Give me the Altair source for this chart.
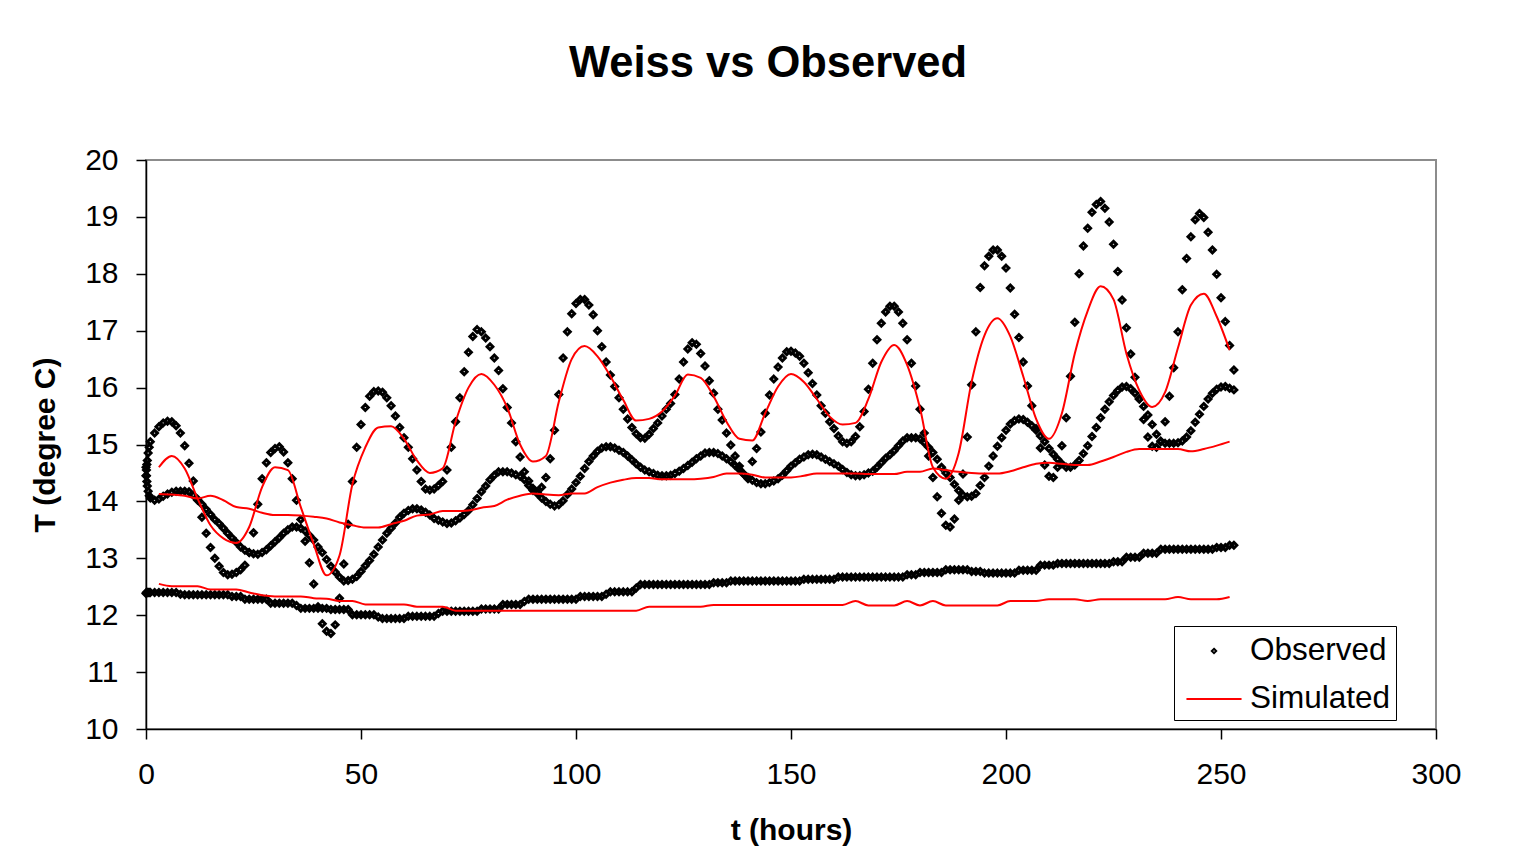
import altair as alt
import pandas as pd

# ---------------- data ----------------
x_ticks = [0, 50, 100, 150, 200, 250, 300]
y_ticks = [10, 11, 12, 13, 14, 15, 16, 17, 18, 19, 20]

# observed: a few readings inside the first hour, then hourly to t = 253
t_obs = [0, 0.1, 0.2, 0.3, 0.5, 0.75] + list(range(1, 254))

obs_upper = [
    14.45, 14.55, 14.65, 14.72, 14.85, 14.95,
    15.05, 15.2, 15.31, 15.38, 15.41, 15.4, 15.33, 15.2, 14.98, 14.67,
    14.36, 14.02, 13.72, 13.44, 13.19, 13.0, 12.86, 12.75, 12.71, 12.72,
    12.75, 12.8, 12.88, 13.1, 13.45, 13.95, 14.4, 14.68, 14.86, 14.93,
    14.96, 14.87, 14.68, 14.4, 14.02, 13.68, 13.3, 12.92, 12.55, 12.15,
    11.85, 11.72, 11.68, 11.83, 12.3, 12.9, 13.6, 14.35, 14.95, 15.35,
    15.65, 15.85, 15.93, 15.94, 15.92, 15.82, 15.68, 15.5, 15.3, 15.12,
    14.95, 14.75, 14.55, 14.35, 14.22, 14.2, 14.22, 14.28, 14.35, 14.55,
    14.95, 15.4, 15.82, 16.28, 16.62, 16.9, 17.02, 16.98, 16.87, 16.72,
    16.52, 16.3, 15.98, 15.65, 15.38, 15.05, 14.78, 14.52, 14.36, 14.23,
    14.16, 14.25, 14.42, 14.75, 15.25, 15.88, 16.52, 16.98, 17.3, 17.48,
    17.55, 17.55, 17.45, 17.28, 17.0, 16.72, 16.45, 16.22, 16.02, 15.82,
    15.62, 15.45, 15.3, 15.19, 15.12, 15.11, 15.18, 15.28, 15.38, 15.5,
    15.62, 15.72, 15.88, 16.15, 16.45, 16.68, 16.79, 16.76, 16.6, 16.38,
    16.12, 15.9, 15.62, 15.43, 15.2, 14.99, 14.8, 14.62, 14.48, 14.4,
    14.7, 14.93, 15.22, 15.55, 15.87, 16.15, 16.36, 16.52, 16.63, 16.64,
    16.61, 16.55, 16.43, 16.26, 16.07, 15.87, 15.68, 15.55, 15.4, 15.28,
    15.15, 15.05, 15.02, 15.05, 15.14, 15.31, 15.58, 15.97, 16.43, 16.84,
    17.13, 17.33, 17.43, 17.43, 17.33, 17.13, 16.84, 16.43, 16.03, 15.62,
    15.2, 14.8, 14.42, 14.08, 13.79, 13.58, 13.55, 13.69, 14.02, 14.48,
    15.13, 16.05, 16.98, 17.76, 18.14, 18.31, 18.42, 18.42, 18.31, 18.1,
    17.75, 17.29, 16.88, 16.45, 16.03, 15.68, 15.28, 14.94, 14.64, 14.44,
    14.42, 14.6, 14.98, 15.47, 16.2, 17.15, 18.0, 18.49, 18.8, 19.08,
    19.22, 19.27, 19.15, 18.91, 18.52, 18.04, 17.54, 17.05, 16.59, 16.18,
    15.8, 15.44, 15.13, 14.97, 14.95, 15.05, 15.4, 15.85, 16.35, 16.98,
    17.72, 18.27, 18.65, 18.95, 19.06, 18.99, 18.73, 18.42, 17.99, 17.58,
    17.16, 16.74, 16.31,
]

obs_middle = [
    14.6, 14.45, 14.35, 14.27, 14.18, 14.1,
    14.06, 14.02, 14.04, 14.09, 14.13, 14.16, 14.18, 14.18, 14.18, 14.17,
    14.11, 14.04, 13.95, 13.86, 13.77, 13.68, 13.61, 13.53, 13.44, 13.36,
    13.28, 13.2, 13.14, 13.1, 13.08, 13.07, 13.1, 13.15, 13.22, 13.29,
    13.36, 13.44, 13.5, 13.55, 13.55, 13.53, 13.48, 13.4, 13.32, 13.2,
    13.1, 12.98, 12.86, 12.76, 12.67, 12.6, 12.61, 12.63, 12.68, 12.77,
    12.87, 12.96, 13.07, 13.2, 13.32, 13.44, 13.53, 13.62, 13.72, 13.79,
    13.84, 13.87, 13.87, 13.85, 13.81, 13.76, 13.7, 13.67, 13.64, 13.61,
    13.62, 13.66, 13.71, 13.77, 13.84, 13.94, 14.05, 14.17, 14.27, 14.38,
    14.46, 14.52, 14.52, 14.52, 14.5, 14.47, 14.44, 14.38, 14.28, 14.19,
    14.14, 14.06, 14.0, 13.95, 13.92, 13.94, 14.01, 14.12, 14.22, 14.33,
    14.44, 14.58, 14.7, 14.8, 14.88, 14.94, 14.96, 14.96, 14.94, 14.9,
    14.86, 14.8, 14.73, 14.66, 14.6, 14.55, 14.52, 14.49, 14.46, 14.45,
    14.45, 14.46, 14.49, 14.53, 14.58, 14.63, 14.69, 14.75, 14.8, 14.85,
    14.86, 14.86, 14.84, 14.8, 14.75, 14.7, 14.63, 14.56, 14.48, 14.42,
    14.37, 14.33, 14.31, 14.31, 14.33, 14.36, 14.4, 14.46, 14.54, 14.62,
    14.68, 14.74, 14.78, 14.82, 14.83, 14.82, 14.78, 14.74, 14.7, 14.66,
    14.62, 14.56, 14.51, 14.47, 14.45, 14.45, 14.47, 14.5, 14.53, 14.6,
    14.68, 14.76, 14.82, 14.89, 14.98, 15.06, 15.12, 15.12, 15.12, 15.1,
    15.03, 14.95, 14.86, 14.74, 14.6, 14.5, 14.42, 14.3, 14.19, 14.11,
    14.08, 14.09, 14.14, 14.28, 14.42, 14.62, 14.8, 14.97, 15.12, 15.25,
    15.36, 15.42, 15.45, 15.44, 15.39, 15.33, 15.25, 15.15, 15.05, 14.93,
    14.83, 14.74, 14.66, 14.6, 14.6, 14.64, 14.72, 14.84, 14.98, 15.14,
    15.3, 15.47, 15.62, 15.75, 15.86, 15.95, 16.01, 16.02, 15.98, 15.9,
    15.8, 15.67, 15.52, 15.35, 15.18, 15.06, 15.02, 15.02, 15.02, 15.03,
    15.06, 15.13, 15.24, 15.39, 15.53, 15.67, 15.8, 15.9, 15.97, 16.01,
    16.02, 15.99, 15.96,
]

obs_lower = [
    12.38, 12.4, 12.4, 12.4, 12.4, 12.4,
    12.4, 12.4, 12.4, 12.4, 12.4, 12.4, 12.4, 12.37, 12.36, 12.36,
    12.36, 12.36, 12.36, 12.36, 12.36, 12.36, 12.36, 12.36, 12.36, 12.33,
    12.33, 12.33, 12.28, 12.28, 12.28, 12.28, 12.28, 12.28, 12.21, 12.21,
    12.21, 12.21, 12.21, 12.21, 12.17, 12.12, 12.12, 12.12, 12.12, 12.12,
    12.12, 12.12, 12.1, 12.1, 12.1, 12.1, 12.1, 12.01, 12.01, 12.01,
    12.01, 12.01, 12.01, 11.97, 11.94, 11.94, 11.94, 11.94, 11.94, 11.94,
    11.98, 11.98, 11.98, 11.98, 11.98, 11.98, 11.98, 12.03, 12.07, 12.07,
    12.07, 12.07, 12.07, 12.07, 12.07, 12.07, 12.07, 12.11, 12.11, 12.11,
    12.11, 12.11, 12.19, 12.19, 12.19, 12.19, 12.19, 12.24, 12.28, 12.28,
    12.28, 12.28, 12.28, 12.28, 12.28, 12.28, 12.28, 12.28, 12.28, 12.28,
    12.33, 12.33, 12.33, 12.33, 12.33, 12.33, 12.37, 12.41, 12.41, 12.41,
    12.41, 12.41, 12.41, 12.48, 12.54, 12.54, 12.54, 12.54, 12.54, 12.54,
    12.54, 12.54, 12.54, 12.54, 12.54, 12.54, 12.54, 12.54, 12.54, 12.54,
    12.54, 12.57, 12.57, 12.57, 12.57, 12.6, 12.6, 12.6, 12.6, 12.6,
    12.6, 12.6, 12.6, 12.6, 12.6, 12.6, 12.6, 12.6, 12.6, 12.6,
    12.6, 12.6, 12.63, 12.63, 12.63, 12.63, 12.63, 12.63, 12.63, 12.63,
    12.67, 12.67, 12.67, 12.67, 12.67, 12.67, 12.67, 12.67, 12.67, 12.67,
    12.67, 12.67, 12.67, 12.67, 12.67, 12.67, 12.71, 12.71, 12.71, 12.75,
    12.75, 12.75, 12.75, 12.75, 12.75, 12.8, 12.8, 12.8, 12.8, 12.8,
    12.8, 12.77, 12.77, 12.77, 12.74, 12.74, 12.74, 12.74, 12.74, 12.74,
    12.74, 12.74, 12.79, 12.79, 12.79, 12.79, 12.79, 12.88, 12.88, 12.88,
    12.88, 12.91, 12.91, 12.91, 12.91, 12.91, 12.91, 12.91, 12.91, 12.91,
    12.91, 12.91, 12.91, 12.91, 12.94, 12.94, 12.94, 13.02, 13.02, 13.02,
    13.02, 13.09, 13.09, 13.09, 13.09, 13.16, 13.16, 13.16, 13.16, 13.16,
    13.16, 13.16, 13.16, 13.16, 13.16, 13.16, 13.16, 13.16, 13.19, 13.19,
    13.19, 13.23, 13.23,
]

# simulated: every 3 hours from t = 3 to t = 252
t_sim = list(range(3, 253, 3))

sim_upper = [
    14.6, 14.8, 14.58, 14.05, 13.58, 13.35, 13.27, 13.55, 14.25, 14.6,
    14.55, 13.9, 13.25, 12.7, 13.05, 14.3, 14.95, 15.3, 15.32, 15.1,
    14.72, 14.5, 14.58, 15.4, 16.0, 16.24, 16.05, 15.65, 15.0, 14.7,
    14.8, 15.75, 16.5, 16.73, 16.55, 16.2, 15.78, 15.42, 15.45, 15.58,
    15.86, 16.23, 16.17,
    15.85, 15.4, 15.1, 15.07, 15.55, 16.02, 16.24, 16.1, 15.8, 15.49,
    15.35, 15.38, 15.8, 16.45, 16.75, 16.4, 15.64, 14.6, 14.4, 14.85,
    16.1, 16.92, 17.22, 16.9, 16.2, 15.45, 15.1, 15.55, 16.6, 17.35,
    17.78, 17.55, 16.6, 15.95, 15.66, 15.92, 16.7, 17.45, 17.65, 17.25,
    16.66,
]

sim_middle = [
    14.13, 14.12, 14.1, 14.05, 14.1, 14.02, 13.9, 13.87, 13.8, 13.76,
    13.76, 13.75, 13.73, 13.7, 13.63, 13.58, 13.54, 13.54, 13.6, 13.66,
    13.75, 13.77, 13.83, 13.83, 13.84, 13.89, 13.92, 14.03, 14.1, 14.14,
    14.12, 14.11, 14.14, 14.14, 14.25, 14.33, 14.38, 14.41, 14.41, 14.39,
    14.39, 14.39, 14.4, 14.43, 14.49, 14.49, 14.47, 14.42, 14.42, 14.42,
    14.45, 14.49, 14.49, 14.49, 14.49, 14.48, 14.48, 14.48, 14.52, 14.52,
    14.58, 14.55, 14.52, 14.5, 14.49, 14.49, 14.53, 14.6, 14.66, 14.68,
    14.66, 14.64, 14.64, 14.7, 14.78, 14.87, 14.92, 14.92, 14.92, 14.92,
    14.88, 14.92, 14.98, 15.05,
]

sim_lower = [
    12.55, 12.51, 12.51, 12.51, 12.45, 12.45, 12.45, 12.4, 12.35, 12.33,
    12.33, 12.33, 12.3, 12.29, 12.25, 12.25, 12.19, 12.19, 12.19, 12.19,
    12.15, 12.15, 12.15, 12.08, 12.08, 12.08, 12.08, 12.08, 12.08, 12.08,
    12.08, 12.08, 12.08, 12.08, 12.08, 12.08, 12.08, 12.08, 12.15, 12.15,
    12.15, 12.15, 12.15, 12.18, 12.18, 12.18, 12.18, 12.18, 12.18, 12.18,
    12.18, 12.18, 12.18, 12.18, 12.25, 12.17, 12.17, 12.17, 12.25, 12.17,
    12.25, 12.17, 12.17, 12.17, 12.17, 12.17, 12.25, 12.25, 12.25, 12.28,
    12.28, 12.28, 12.25, 12.28, 12.28, 12.28, 12.28, 12.28, 12.28, 12.32,
    12.28, 12.28, 12.28, 12.32,
]

legend_items = ["Observed", "Simulated"]

# ---------------- tables ----------------
obs_rows = []
for name, vals in (("upper", obs_upper), ("middle", obs_middle), ("lower", obs_lower)):
    for t, v in zip(t_obs, vals):
        obs_rows.append({"t": t, "T": v, "kind": "Observed", "series": name})
obs_df = pd.DataFrame(obs_rows)

sim_rows = []
for name, vals in (("upper", sim_upper), ("middle", sim_middle), ("lower", sim_lower)):
    for t, v in zip(t_sim, vals):
        sim_rows.append({"t": t, "T": v, "kind": "Simulated", "series": name})
sim_df = pd.DataFrame(sim_rows)

FONT = "Liberation Sans"

x_enc = alt.X(
    "t:Q",
    scale=alt.Scale(domain=[0, 300], nice=False, zero=False),
    axis=alt.Axis(values=x_ticks, title="t (hours)", labelPadding=20,
                  titlePadding=26, labelFlush=False),
)
y_enc = alt.Y(
    "T:Q",
    scale=alt.Scale(domain=[10, 20], nice=False, zero=False),
    axis=alt.Axis(values=y_ticks, title="T (degree C)", labelPadding=18,
                  titlePadding=24, labelFlush=False),
)

# legend / marker glyphs (unit-square SVG paths)
diamond_path = "M0,-0.115L0.115,0L0,0.115L-0.115,0Z"
dash_path = "M-1.45,0H1.45"

legend_cfg = alt.Legend(
    title=None,
    orient="none",
    legendX=1028,
    legendY=466,
    fillColor="#FFFFFF",
    strokeColor="#000000",
    padding=5,
    symbolOffset=15,
    labelFont=FONT,
    labelFontSize=31.5,
    labelColor="#000000",
    labelOffset=16,
    symbolSize=1444,
    symbolStrokeWidth=2,
    rowPadding=12,
)

points = alt.Chart(obs_df).mark_point(
    filled=False, size=2500, strokeWidth=3, opacity=1
).encode(
    x=x_enc,
    y=y_enc,
    color=alt.Color(
        "kind:N",
        scale=alt.Scale(domain=legend_items, range=["#000000", "#FF0000"]),
        legend=legend_cfg,
    ),
    shape=alt.Shape(
        "kind:N",
        scale=alt.Scale(domain=legend_items, range=[diamond_path, dash_path]),
        legend=legend_cfg,
    ),
)

lines = alt.Chart(sim_df).mark_line(
    strokeWidth=2, color="#FF0000", interpolate="monotone"
).encode(
    x=x_enc,
    y=y_enc,
    detail="series:N",
    order="t:Q",
)

chart = (
    alt.layer(points, lines)
    .properties(
        width=1290,
        height=569,
        autosize=alt.AutoSizeParams(type="none"),
        padding={"left": 146, "top": 160, "right": 84, "bottom": 133},
        title=alt.Title(
            "Weiss vs Observed",
            font=FONT,
            fontSize=43.5,
            fontWeight="bold",
            color="#000000",
            anchor="middle",
            dx=-23,
            offset=25,
            baseline="alphabetic",
        ),
    )
    .configure(background="#FFFFFF")
    .configure_view(stroke="#8C8C8C", strokeWidth=2)
    .configure_axis(
        grid=False,
        domainColor="#000000",
        domainWidth=1.5,
        tickColor="#000000",
        tickSize=10,
        tickWidth=1.5,
        labelFont=FONT,
        labelFontSize=30,
        labelColor="#000000",
        titleFont=FONT,
        titleFontSize=30,
        titleFontWeight="bold",
        titleColor="#000000",
    )
)

chart.save("out.html", embed_options={"renderer": "svg", "actions": False})
